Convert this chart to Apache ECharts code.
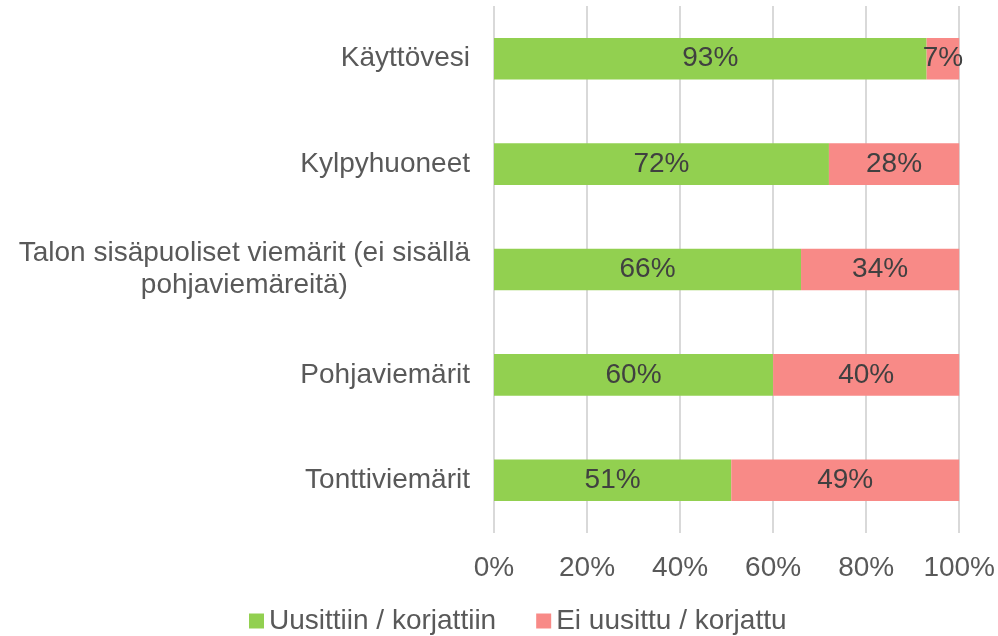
<!DOCTYPE html>
<html>
<head>
<meta charset="utf-8">
<script src="https://cdn.jsdelivr.net/npm/echarts@6/dist/echarts.min.js"></script>
<style>
  html, body { margin: 0; padding: 0; background: #fff; }
  #chart { width: 998px; height: 636px; }
</style>
</head>
<body>
<div id="chart"></div>
<script>
const categories = [
  'Käyttövesi',
  'Kylpyhuoneet',
  'Talon sisäpuoliset viemärit (ei sisällä\npohjaviemäreitä)',
  'Pohjaviemärit',
  'Tonttiviemärit'
]
const renewed = [93, 72, 66, 60, 51]
const notRenewed = [7, 28, 34, 40, 49]
const seriesNames = ['Uusittiin / korjattiin', 'Ei uusittu / korjattu']
const xTicks = [0, 20, 40, 60, 80, 100]

const font = '"Liberation Sans", Arial, sans-serif'
const fs = 28
const chart = echarts.init(document.getElementById('chart'))

const barLabel = {
  show: true,
  position: 'inside',
  formatter: p => p.value + '%',
  color: '#404040',
  fontSize: fs,
  fontFamily: font
}

chart.setOption({
  animation: false,
  color: ['#92D050', '#F88A87'],
  grid: { left: 494, right: 38, top: 6, bottom: 103 },
  legend: {
    left: 244,
    top: 602,
    itemWidth: 15,
    itemHeight: 15,
    itemGap: 40,
    icon: 'rect',
    textStyle: { color: '#595959', fontSize: fs, fontFamily: font },
    data: seriesNames
  },
  xAxis: {
    type: 'value',
    min: xTicks[0],
    max: xTicks[xTicks.length - 1],
    interval: 20,
    axisLine: { show: false },
    axisTick: { show: false },
    splitLine: { lineStyle: { color: '#D9D9D9', width: 2 } },
    axisLabel: {
      formatter: v => v + '%',
      color: '#595959',
      fontSize: fs,
      fontFamily: font,
      margin: 21
    }
  },
  yAxis: {
    type: 'category',
    inverse: true,
    data: categories,
    axisLine: { show: false },
    axisTick: { show: false },
    axisLabel: {
      margin: 24,
      formatter: v => '{c|' + v.split('\n').join('}\n{c|') + '}',
      rich: {
        c: { align: 'center', color: '#595959', fontSize: fs, fontFamily: font, lineHeight: 32 }
      }
    }
  },
  series: [
    {
      name: seriesNames[0],
      type: 'bar',
      stack: 'total',
      barWidth: '39.5%',
      data: renewed,
      label: barLabel
    },
    {
      name: seriesNames[1],
      type: 'bar',
      stack: 'total',
      barWidth: '39.5%',
      data: notRenewed,
      label: barLabel
    }
  ]
})
</script>
</body>
</html>
